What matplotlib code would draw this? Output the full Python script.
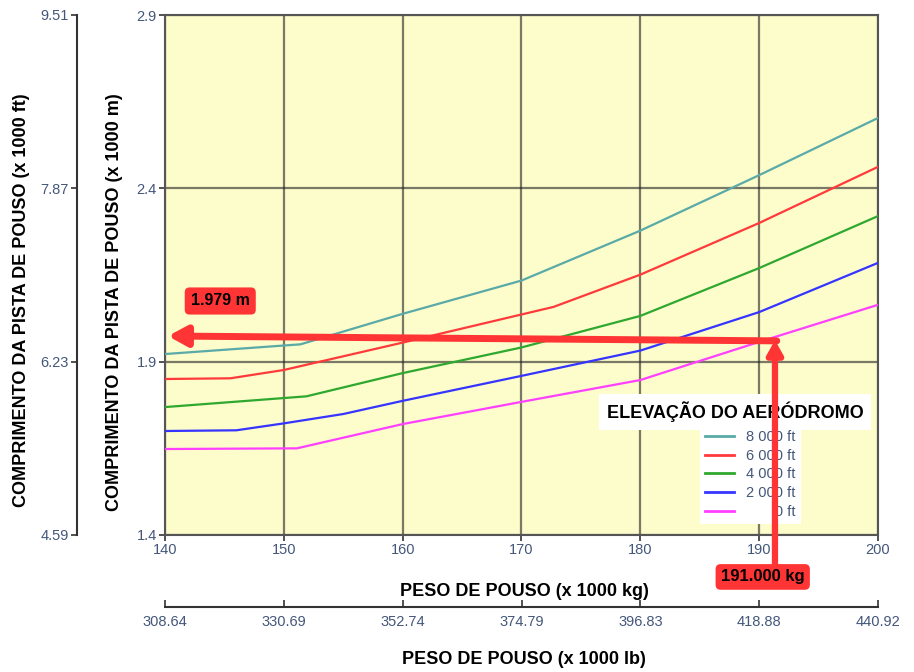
import numpy as np
import matplotlib.pyplot as plt
from matplotlib.lines import Line2D

plt.rcParams['font.family'] = ['Liberation Sans', 'DejaVu Sans']

# ---------- data (x 1000 kg -> x 1000 m) ----------
x_8000 = [140, 151.4, 160, 170, 180, 190, 200]
y_8000 = [1.922, 1.950, 2.038, 2.134, 2.278, 2.438, 2.603]

x_6000 = [140, 145.5, 150, 160, 172.7, 180, 190, 200]
y_6000 = [1.850, 1.852, 1.876, 1.955, 2.058, 2.151, 2.300, 2.462]

x_4000 = [140, 151.9, 160, 170, 180, 190, 200]
y_4000 = [1.769, 1.800, 1.867, 1.941, 2.032, 2.170, 2.320]

x_2000 = [140, 146, 150, 155, 160, 170, 180, 190, 200]
y_2000 = [1.700, 1.702, 1.722, 1.749, 1.787, 1.859, 1.932, 2.043, 2.185]

x_0 = [140, 151.1, 160, 170, 180, 190, 200]
y_0 = [1.648, 1.650, 1.720, 1.784, 1.847, 1.957, 2.064]

series = [
    (x_8000, y_8000, '#5aaaa8', '8 000 ft'),
    (x_6000, y_6000, '#ff3a3a', '6 000 ft'),
    (x_4000, y_4000, '#2fa82f', '4 000 ft'),
    (x_2000, y_2000, '#3535ff', '2 000 ft'),
    (x_0, y_0, '#ff40ff', '       0 ft'),
]

kg_ticks = [140, 150, 160, 170, 180, 190, 200]
m_ticks = [1.4, 1.9, 2.4, 2.9]
ft_ticks = [4.59, 6.23, 7.87, 9.51]
lb_ticks = [308.64, 330.69, 352.74, 374.79, 396.83, 418.88, 440.92]

peso = 191.33
pista = 1.974

tick_col = '#44577a'
red = '#ff3434'

fig = plt.figure(figsize=(9.14, 6.72), dpi=100)
W, H = 914, 672

def fx(px):
    return px / W

def fy(py):
    return 1 - py / H

# ---------- main axes ----------
ax = fig.add_axes([fx(165), fy(535), fx(878) - fx(165), fy(15) - fy(535)])
ax.set_facecolor('#fdfccb')
ax.set_xlim(140, 200)
ax.set_ylim(1.4, 2.9)
ax.set_xticks(kg_ticks)
ax.set_yticks(m_ticks)
ax.set_yticklabels(['1.4', '1.9', '2.4', '2.9'])
ax.grid(True, color='#222222', alpha=0.6, lw=1.6)
ax.tick_params(direction='out', length=4, width=1.2, colors='#333333',
               labelcolor=tick_col, labelsize=10.5, pad=2)
for s in ax.spines.values():
    s.set_color('#555555')
    s.set_linewidth(1.5)

for xs, ys, c, lab in series:
    ax.plot(xs, ys, color=c, lw=1.6, label=lab, zorder=3)

# legenda
handles = [Line2D([0], [0], color=c, lw=2) for _, _, c, _ in series]
labels = [lab for _, _, _, lab in series]
leg = ax.legend(handles, labels, loc='upper left',
                bbox_to_anchor=(fx(700), fy(425)), bbox_transform=fig.transFigure,
                frameon=True, fancybox=False, facecolor='white', edgecolor='none',
                framealpha=1, fontsize=10.5, handlelength=2.0, handletextpad=0.8,
                labelspacing=0.32, borderpad=0.35, borderaxespad=0)
for t in leg.get_texts():
    t.set_color(tick_col)
leg.set_zorder(5)

ax.text(187.97, 1.755, 'ELEVAÇÃO DO AERÓDROMO', ha='center', va='center',
        fontsize=13, fontweight='bold', zorder=5,
        bbox=dict(boxstyle='square,pad=0.4', fc='white', ec='none'))

# ---------- seta vermelha ----------
ax.annotate('', xy=(peso, pista - 0.012), xytext=(peso, 1.256),
            arrowprops=dict(arrowstyle='-|>,head_length=0.8,head_width=0.45',
                            color=red, lw=4.5, shrinkA=0, shrinkB=0),
            annotation_clip=False, zorder=7)
ax.annotate('', xy=(140.25, pista), xytext=(peso + 0.15, pista - 0.014),
            arrowprops=dict(arrowstyle='-|>,head_length=1.1,head_width=0.6',
                            color=red, lw=5, shrinkA=0, shrinkB=0),
            annotation_clip=False, zorder=7)

ax.text(144.65, 2.075, '1.979 m', ha='center', va='center', fontsize=11.5,
        fontweight='bold', zorder=8,
        bbox=dict(boxstyle='round,pad=0.38,rounding_size=0.3', fc=red, ec='none'))
ax.text(190.3, 1.279, '191.000 kg', ha='center', va='center', fontsize=12,
        fontweight='bold', zorder=8, clip_on=False,
        bbox=dict(boxstyle='round,pad=0.32,rounding_size=0.3', fc=red, ec='none'))

# ---------- eixo ft ----------
axf = fig.add_axes([fx(77), fy(535), 0.0001, fy(15) - fy(535)])
axf.set_ylim(4.59, 9.51)
axf.set_yticks(ft_ticks)
axf.set_yticklabels(['4.59', '6.23', '7.87', '9.51'])
axf.set_xticks([])
for k in ['top', 'right', 'bottom']:
    axf.spines[k].set_visible(False)
axf.spines['left'].set_color('#333333')
axf.spines['left'].set_linewidth(1.5)
axf.tick_params(direction='out', length=4, width=1.2, colors='#333333',
                labelcolor=tick_col, labelsize=10.5, pad=2)
axf.patch.set_visible(False)

# ---------- eixo lb ----------
axl = fig.add_axes([fx(165), fy(607), fx(878) - fx(165), 0.0001])
axl.set_xlim(308.64, 440.92)
axl.set_xticks(lb_ticks)
axl.set_xticklabels(['308.64', '330.69', '352.74', '374.79', '396.83', '418.88', '440.92'])
axl.set_yticks([])
for k in ['top', 'right', 'left']:
    axl.spines[k].set_visible(False)
axl.spines['bottom'].set_color('#333333')
axl.spines['bottom'].set_linewidth(1.5)
axl.tick_params(direction='in', length=5, width=1.2, colors='#333333',
                labelcolor=tick_col, labelsize=10.5, pad=6)
axl.patch.set_visible(False)

# ---------- rótulos ----------
fig.text(fx(524), fy(591), 'PESO DE POUSO (x 1000 kg)', ha='center', va='center',
         fontsize=13, fontweight='bold')
fig.text(fx(524), fy(660), 'PESO DE POUSO (x 1000 lb)', ha='center', va='center',
         fontsize=13, fontweight='bold')
fig.text(fx(115), fy(302), 'COMPRIMENTO DA PISTA DE POUSO (x 1000 m)', ha='center',
         va='center', rotation=90, fontsize=13, fontweight='bold')
fig.text(fx(22), fy(300), 'COMPRIMENTO DA PISTA DE POUSO (x 1000 ft)', ha='center',
         va='center', rotation=90, fontsize=13, fontweight='bold')

fig.savefig('out.png', dpi=100, facecolor='white')
